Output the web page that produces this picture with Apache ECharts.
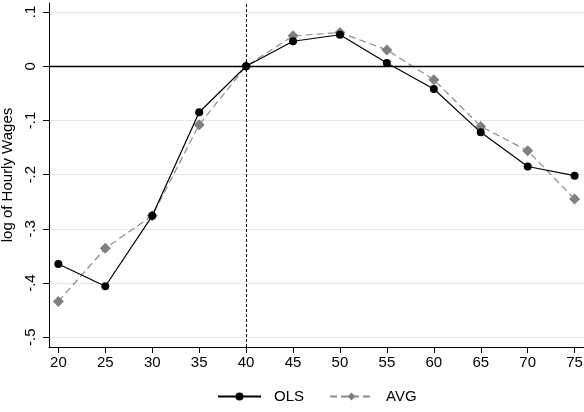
<!DOCTYPE html>
<html>
<head>
<meta charset="utf-8">
<script src="https://cdn.jsdelivr.net/npm/echarts@6/dist/echarts.min.js"></script>
<style>
  html, body { margin: 0; padding: 0; background: #fff; }
  #chart { width: 584px; height: 412px; }
</style>
</head>
<body>
<div id="chart"></div>
<script>
// Age profile of log hourly wages, relative to age 40
const ages = [20, 25, 30, 35, 40, 45, 50, 55, 60, 65, 70, 75];
const olsValues = [-0.365, -0.406, -0.276, -0.085, 0, 0.046, 0.058, 0.006, -0.042, -0.122, -0.185, -0.202];
const avgValues = [-0.434, -0.336, -0.276, -0.108, 0, 0.056, 0.062, 0.030, -0.025, -0.111, -0.156, -0.245];
const xTicks = [20, 25, 30, 35, 40, 45, 50, 55, 60, 65, 70, 75];
const yTicks = [-0.5, -0.4, -0.3, -0.2, -0.1, 0, 0.1];
const yTickLabels = ['-.5', '-.4', '-.3', '-.2', '-.1', '0', '.1'];
const referenceAge = 40;

const FONT = '"Liberation Sans", Arial, Helvetica, sans-serif';

const chart = echarts.init(document.getElementById('chart'), null, { renderer: 'canvas' });

const pairs = (vals) => ages.map((a, i) => [a, vals[i]]);

chart.setOption({
  animation: false,
  backgroundColor: '#ffffff',
  grid: { left: 49, right: 0, top: 3, bottom: 65, containLabel: false, outerBoundsMode: 'none' },
  xAxis: {
    type: 'value',
    min: 19,
    max: 76,
    axisLine: { show: true, onZero: false, lineStyle: { color: '#000', width: 1 } },
    axisTick: { show: true, length: 6, customValues: xTicks, lineStyle: { color: '#000', width: 1 } },
    axisLabel: { customValues: xTicks, color: '#000', fontSize: 15, fontFamily: FONT, margin: 8 },
    splitLine: { show: false }
  },
  yAxis: {
    type: 'value',
    min: -0.518,
    max: 0.1166,
    name: 'log of Hourly Wages',
    nameLocation: 'middle',
    nameRotate: 90,
    nameGap: 30,
    nameTextStyle: { color: '#000', fontSize: 15, fontFamily: FONT },
    axisLine: { show: true, onZero: false, lineStyle: { color: '#000', width: 1 } },
    axisTick: { show: true, length: 6, customValues: yTicks, lineStyle: { color: '#000', width: 1 } },
    axisLabel: {
      customValues: yTicks,
      rotate: 90,
      color: '#000',
      fontSize: 15,
      fontFamily: FONT,
      margin: 11,
      formatter: (v) => {
        const i = yTicks.findIndex(t => Math.abs(t - v) < 1e-6);
        return i >= 0 ? yTickLabels[i] : '';
      }
    },
    splitLine: { show: true, lineStyle: { color: '#e6e6e6', width: 1 } }
  },
  legend: {
    bottom: 3,
    left: 212,
    itemWidth: 43,
    itemHeight: 10,
    itemGap: 25,
    textStyle: { color: '#000', fontSize: 15, fontFamily: FONT, padding: [0, 0, 0, 8] },
    data: ['OLS', 'AVG']
  },
  series: [
    {
      name: 'refLines',
      type: 'line',
      data: [],
      z: 1,
      silent: true,
      markLine: {
        silent: true,
        symbol: 'none',
        label: { show: false },
        data: [
          { yAxis: 0, lineStyle: { color: '#000', width: 1.4, type: 'solid' } },
          { xAxis: referenceAge, lineStyle: { color: '#000', width: 1, type: [3, 2] } }
        ]
      }
    },
    {
      name: 'OLS',
      type: 'line',
      z: 4,
      data: pairs(olsValues),
      symbol: 'circle',
      symbolSize: 8,
      color: '#000',
      itemStyle: { color: '#000' },
      lineStyle: { color: '#000', width: 1.2, type: 'solid' }
    },
    {
      name: 'AVG',
      type: 'line',
      z: 3,
      data: pairs(avgValues),
      symbol: 'diamond',
      symbolSize: 11,
      color: '#808080',
      itemStyle: { color: '#808080' },
      lineStyle: { color: '#8c8c8c', width: 1.2, type: [7, 4] }
    }
  ]
});
</script>
</body>
</html>
